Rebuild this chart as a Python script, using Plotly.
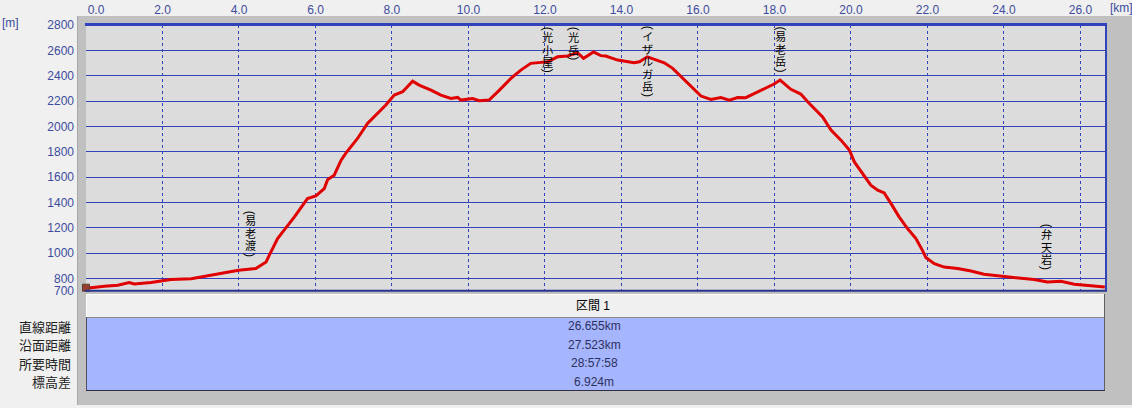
import numpy as np
import plotly.graph_objects as go

# ---------------- data ----------------
km = [0.00, 0.13, 0.48, 0.83, 1.13, 1.26, 1.70, 2.22, 2.75, 3.44, 3.99, 4.44, 4.71, 4.79,
      5.01, 5.18, 5.45, 5.79, 6.01, 6.23, 6.32, 6.49, 6.67, 6.80, 7.10, 7.36, 7.62, 7.84,
      8.06, 8.28, 8.54, 8.71, 9.02, 9.28, 9.54, 9.72, 9.80, 10.11, 10.28, 10.54, 10.81,
      11.11, 11.37, 11.63, 11.90, 12.07, 12.33, 12.59, 12.85, 13.01, 13.27, 13.46, 13.59,
      13.90, 14.33, 14.47, 14.68, 14.90, 15.12, 15.34, 15.60, 15.86, 16.08, 16.34, 16.60,
      16.82, 17.04, 17.25, 17.56, 17.82, 17.99, 18.15, 18.43, 18.69, 18.87, 19.26, 19.48,
      19.74, 19.96, 20.09, 20.35, 20.52, 20.70, 20.87, 21.05, 21.26, 21.48, 21.70, 21.87,
      21.96, 22.18, 22.44, 22.79, 23.14, 23.48, 24.01, 24.44, 24.79, 25.14, 25.49, 25.84,
      26.27, 26.64]
elev = [726, 726, 737, 745, 766, 755, 768, 790, 797, 832, 863, 877, 929, 982,
        1114, 1180, 1285, 1430, 1451, 1509, 1580, 1614, 1733, 1790, 1904, 2023, 2102, 2168,
        2247, 2273, 2357, 2326, 2286, 2247, 2220, 2228, 2207, 2220, 2202, 2207, 2286,
        2379, 2444, 2497, 2505, 2510, 2549, 2555, 2581, 2537, 2587, 2558, 2555,
        2523, 2502, 2510, 2549, 2523, 2502, 2458, 2379, 2300, 2239, 2213, 2228,
        2207, 2228, 2226, 2273, 2312, 2334, 2365, 2292, 2255, 2194, 2075, 1970,
        1891, 1812, 1719, 1610, 1535, 1496, 1474, 1390, 1285, 1193, 1114, 1021,
        964, 916, 889, 877, 858, 832, 816, 806, 790, 771, 776, 753,
        739, 732]

x_tick_vals = [0, 2, 4, 6, 8, 10, 12, 14, 16, 18, 20, 22, 24, 26]
y_tick_vals = [700, 800, 1000, 1200, 1400, 1600, 1800, 2000, 2200, 2400, 2600, 2800]

waypoint_names = ["易老渡", "光小屋", "光岳", "イザルガ岳", "易老岳", "弁天岩"]
waypoint_km = [4.29, 12.07, 12.75, 14.68, 18.17, 25.12]

section_title = "区間 1"
row_labels = ["直線距離", "沿面距離", "所要時間", "標高差"]
row_values = ["26.655km", "27.523km", "28:57:58", "6.924m"]

# ---------------- layout constants ----------------
W, H = 1132, 408
L, R, T, B = 86, 26, 25, 117
X_MAX = 26.67
Y_MIN, Y_MAX = 700, 2800
PW, PH = W - L - R, H - T - B

BLUE = "#3344bb"
TICK_BLUE = "#3d4c9e"
NUM_FONT = "Liberation Sans, Noto Sans CJK JP, sans-serif"
JP_FONT = "Noto Sans CJK JP, sans-serif"
STACK_FONT = "Liberation Serif, Noto Sans CJK JP, serif"


def fx(px):
    return (px - L) / PW


def fy(py):
    return (H - B - py) / PH


def rect(x0, y0, x1, y1, fill, layer="below"):
    return dict(type="rect", xref="paper", yref="paper",
                x0=fx(x0), x1=fx(x1), y0=fy(y1), y1=fy(y0),
                fillcolor=fill, layer=layer, line=dict(color=fill, width=0))


def hline(x0, x1, y, color, width, layer="above"):
    return dict(type="line", xref="paper", yref="paper",
                x0=fx(x0), x1=fx(x1), y0=fy(y), y1=fy(y),
                line=dict(color=color, width=width), layer=layer)


def vline(x, y0, y1, color, width, layer="above"):
    return dict(type="line", xref="paper", yref="paper",
                x0=fx(x), x1=fx(x), y0=fy(y0), y1=fy(y1),
                line=dict(color=color, width=width), layer=layer)


fig = go.Figure()
fig.add_trace(go.Scatter(x=km, y=elev, mode="lines",
                         line=dict(color="#e00000", width=3),
                         hoverinfo="skip", showlegend=False))
# start marker (hiker icon stand-in)
fig.add_trace(go.Scatter(x=km[:1], y=elev[:1], mode="markers", cliponaxis=False,
                         marker=dict(symbol="square", size=7, color="#9b3b2e",
                                     line=dict(color="#5a4030", width=1)),
                         hoverinfo="skip", showlegend=False))

shapes = [
    rect(77, 16, W + 2, 405, "#c0c0c0"),
    vline(77.5, 16, 405, "#a8a8a8", 1, layer="below"),
    rect(L, T, W - R, H - B, "#dcdcdc"),
    # plot borders
    hline(L - 1, W - R + 1, 24.5, BLUE, 3),
    vline(W - R, 24, 291, BLUE, 2),
    hline(L - 1, W - R + 1, 290.8, "#2a3590", 2),
    # table
    rect(L, 294, 1105, 317, "#f0f0f0"),
    hline(L, 1105, 294.5, "#ffffff", 1, layer="below"),
    vline(L + 0.5, 294, 317, "#ffffff", 1, layer="below"),
    rect(L, 317, 1105, 390, "#a5b5ff"),
    hline(L, 1105, 317.5, "#8c8c8c", 1, layer="below"),
    hline(L, 1105, 390.5, "#303040", 1.2, layer="below"),
    vline(L + 0.5, 317, 390, "#505060", 1, layer="below"),
    vline(1104.5, 294, 390, "#606060", 1, layer="below"),
]

annotations = []
# unit labels
annotations.append(dict(xref="paper", yref="paper", x=fx(0), y=fy(23.5), text="[m]",
                        showarrow=False, xanchor="left", yanchor="middle",
                        font=dict(family=NUM_FONT, size=12, color=TICK_BLUE)))
annotations.append(dict(xref="paper", yref="paper", x=fx(1108), y=fy(8), text="[km]",
                        showarrow=False, xanchor="left", yanchor="middle",
                        font=dict(family=NUM_FONT, size=12, color=TICK_BLUE)))

# vertical waypoint labels: rotated "(" + stacked glyphs + rotated ")"
m_per_px = (Y_MAX - Y_MIN) / PH
GLYPH = 11.2            # glyph size (px)
PITCH = 12.5            # vertical pitch of stacked glyphs (px)
BASE = PITCH / 1.3      # base font size giving that line pitch
PAREN_SIZE = 12
PAREN_H = 0.333 * PAREN_SIZE + 0.5
CELL_H = 1.107 * GLYPH  # rendered cell height of one line
GAP = 13.0


def py2y(py):
    return Y_MAX - (py - T) * m_per_px


for name, k in zip(waypoint_names, waypoint_km):
    stack_h = (len(name) - 1) * PITCH + CELL_H
    total = 2 * PAREN_H + stack_h
    curve_e = float(np.interp(k, km, elev))
    curve_py = T + (Y_MAX - curve_e) / m_per_px
    top = max(T + 0.3, curve_py - GAP - total)
    stack_text = "<br>".join(f"<span style='font-size:{GLYPH}px'>{c}</span>" for c in name)
    annotations.append(dict(xref="x", yref="y", x=k, y=py2y(top), text="(",
                            showarrow=False, xanchor="center", yanchor="top",
                            textangle=90, borderpad=0,
                            font=dict(family="Liberation Sans", size=PAREN_SIZE,
                                      color="#000000")))
    annotations.append(dict(xref="x", yref="y", x=k, y=py2y(top + PAREN_H), text=stack_text,
                            showarrow=False, xanchor="center", yanchor="top",
                            borderpad=0, align="center",
                            font=dict(family=STACK_FONT, size=BASE, color="#000000")))
    annotations.append(dict(xref="x", yref="y", x=k, y=py2y(top + PAREN_H + stack_h + 0.3),
                            text=")", showarrow=False, xanchor="center", yanchor="top",
                            textangle=90, borderpad=0,
                            font=dict(family="Liberation Sans", size=PAREN_SIZE,
                                      color="#000000")))

# table texts
annotations.append(dict(xref="paper", yref="paper", x=fx(593), y=fy(305.5),
                        text=section_title, showarrow=False,
                        xanchor="center", yanchor="middle",
                        font=dict(family=NUM_FONT, size=12, color="#000000")))
row_y = [326, 344.5, 363, 381.5]
for lab, val, ry in zip(row_labels, row_values, row_y):
    annotations.append(dict(xref="paper", yref="paper", x=fx(73), y=fy(ry),
                            text=lab, showarrow=False,
                            xanchor="right", yanchor="middle",
                            font=dict(family=JP_FONT, size=13, color="#222222")))
    annotations.append(dict(xref="paper", yref="paper", x=fx(594), y=fy(ry),
                            text=val, showarrow=False,
                            xanchor="center", yanchor="middle",
                            font=dict(family=NUM_FONT, size=12, color="#2e3160")))

x_tick_text = ["\u00a0" * 6 + "0.0" if v == 0 else f"{v:.1f}" for v in x_tick_vals]

fig.update_layout(
    width=W, height=H,
    margin=dict(l=L, r=R, t=T, b=B, pad=0, autoexpand=False),
    paper_bgcolor="#f0f0f0",
    plot_bgcolor="rgba(0,0,0,0)",
    shapes=shapes,
    annotations=annotations,
    hovermode=False,
    showlegend=False,
    xaxis=dict(range=[0, X_MAX], side="top", tickvals=x_tick_vals, ticktext=x_tick_text,
               showgrid=True, gridcolor=BLUE, gridwidth=1, griddash="dot",
               zeroline=False, showline=False, ticks="", automargin=False,
               ticklabelstandoff=8,
               tickfont=dict(family=NUM_FONT, size=12, color=TICK_BLUE),
               fixedrange=True),
    yaxis=dict(range=[Y_MIN, Y_MAX], tickvals=y_tick_vals,
               ticktext=[str(v) for v in y_tick_vals],
               showgrid=True, gridcolor=BLUE, gridwidth=1,
               zeroline=False, showline=False, ticks="", automargin=False,
               ticklabelstandoff=11,
               tickfont=dict(family=NUM_FONT, size=12, color=TICK_BLUE),
               fixedrange=True),
)

fig.write_html("out.html", config={"displayModeBar": False},
               post_script="document.body.style.margin='0px';document.body.style.overflow='hidden';")
